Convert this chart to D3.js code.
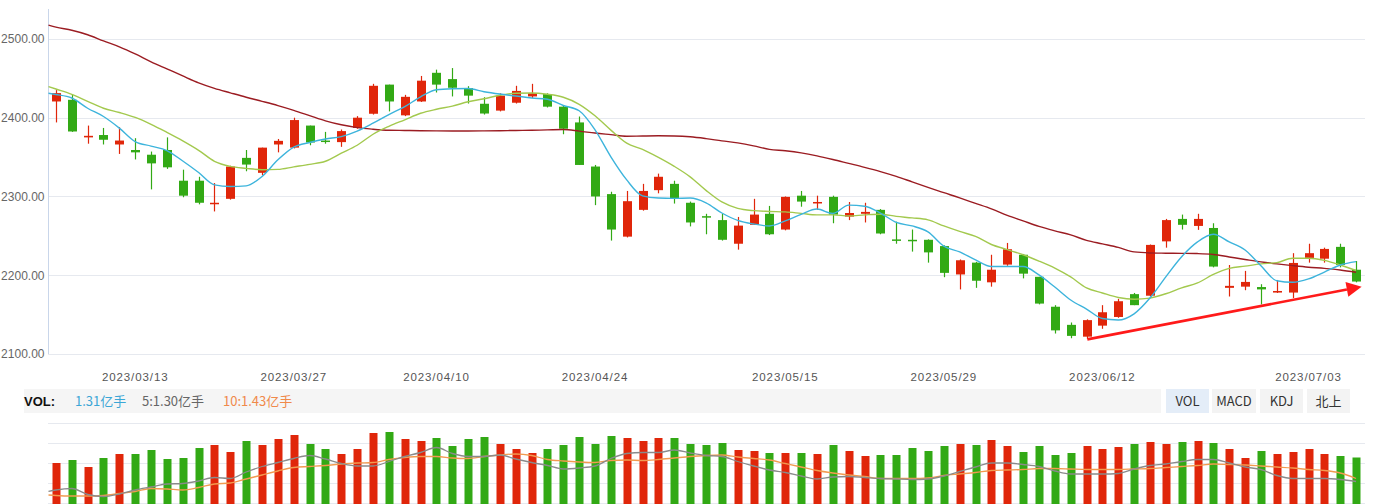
<!DOCTYPE html>
<html><head><meta charset="utf-8">
<script src="https://cdn.jsdelivr.net/npm/d3@7/dist/d3.min.js"></script>
<style>html,body{margin:0;padding:0;background:#fff;overflow:hidden}</style>
</head><body>
<svg id="c" width="1381" height="504"></svg>
<script>
const dates = ["03/06","03/07","03/08","03/09","03/10","03/13","03/14","03/15","03/16","03/17","03/20","03/21","03/22","03/23","03/24","03/27","03/28","03/29","03/30","03/31",
"04/03","04/04","04/06","04/07","04/10","04/11","04/12","04/13","04/14","04/17","04/18","04/19","04/20","04/21","04/24","04/25","04/26","04/27","04/28",
"05/04","05/05","05/08","05/09","05/10","05/11","05/12","05/15","05/16","05/17","05/18","05/19","05/22","05/23","05/24","05/25","05/26","05/29","05/30","05/31",
"06/01","06/02","06/05","06/06","06/07","06/08","06/09","06/12","06/13","06/14","06/15","06/16","06/19","06/20","06/21","06/26","06/27","06/28","06/29","06/30",
"07/03","07/04","07/05","07/06"].map(d => "2023/" + d);
const xTickLabels = ["2023/03/13","2023/03/27","2023/04/10","2023/04/24","2023/05/15","2023/05/29","2023/06/12","2023/07/03"];
const yTicks = [2100, 2200, 2300, 2400, 2500];

const opens  = [2420.6,2422.7,2375,2378,2366,2359,2353,2359,2320,2320,2291,2297,2349,2330,2366,2362,2390,2371,2369,2387,2405,2442,2403,2420.6,2457,2449,2437.6,2417.7,2409,2419,2427,2430,2414,2394,2338,2303,2249,2283,2308,2316,2292,2275,2270,2240,2264,2278,2258,2301,2292,2299.5,2274.4,2278,2283,2245.5,2245,2245,2237,2201,2216,2191,2213.5,2226,2198,2160,2137,2122,2136,2147,2176,2174,2243,2271.5,2262.6,2260,2184,2185.5,2185,2178,2178,2222,2221,2236,2207];
const highs  = [2435,2430,2390,2387,2388,2374,2357,2375,2334,2325,2317,2339,2359,2362,2373,2400,2390,2382,2385,2402,2443,2442,2429,2453,2461,2463,2440,2426,2431,2440.5,2443,2431,2415,2401.5,2340,2306,2307,2316,2329,2320,2293.5,2278,2278,2274,2297,2288,2300,2307,2301,2301,2293,2292,2284,2268,2258,2245.5,2238,2220,2217,2226,2241,2227,2198,2162,2140,2144,2162,2170,2177.5,2239,2271.5,2277,2278,2266,2213,2205.5,2188.6,2194,2228,2240,2235,2240,2218];
const lows   = [2394,2382,2367,2366,2354,2347,2309,2335,2299,2290,2281,2296,2332,2327,2356,2361,2365,2367,2363,2386,2404,2408,2402,2420,2432,2427,2418,2404,2408,2418,2425,2413,2379,2340,2289,2244,2248,2282,2304,2291,2262,2252,2244,2232.5,2264,2251,2257,2287,2283,2266,2270,2267,2252,2240,2230,2216,2197.5,2182,2184,2185.5,2212,2196,2163,2126,2120,2119,2132,2146,2162,2173,2235,2258,2257.6,2210,2173,2181,2163,2177.5,2171,2216,2216,2210,2191];
const closes = [2431.2,2382.5,2377,2372,2371,2356,2342,2337,2301,2292,2292,2338,2340.5,2362,2370.6,2397,2368.5,2370,2383,2400,2440.5,2420.6,2426.5,2447,2442,2438,2428,2405.3,2428,2434,2431,2414,2386,2340,2300,2258,2294,2307,2325,2297,2267,2273.5,2245,2263,2277,2252,2299.5,2293.5,2293,2277,2279,2280.4,2253,2244.5,2244,2229,2203,2219,2193,2207,2233,2202,2164,2130,2123,2143,2153,2167,2162,2238.5,2270,2264,2271.5,2211,2186.5,2191.5,2182,2180,2215.6,2228,2233.4,2213,2192];

const ma5  = [2429.5,2425,2412,2401.5,2386.8,2369.7,2364,2358.3,2345,2330.4,2314.7,2312.6,2313.5,2325.3,2346.5,2362.6,2368.5,2373,2376,2383,2393,2404,2414,2426.5,2435.5,2436.7,2437,2433,2430,2427.6,2425,2423.4,2415.5,2408.8,2384.6,2350.3,2321,2300.7,2298,2297.6,2298,2292,2279,2269.6,2265,2262.6,2269,2277.3,2284,2278.4,2289,2287.6,2279,2267,2262.6,2255,2237,2229.6,2219.4,2211,2211,2211,2200.4,2185,2168.6,2157,2145,2143.2,2151,2171,2198,2223.5,2242.3,2252,2242.3,2232,2212,2193,2191,2195.3,2204,2213,2217.3];
const ma10 = [2436.4,2429.7,2420.8,2412,2406.6,2400.3,2391.6,2381.4,2370.6,2358.6,2344.6,2338.2,2335.7,2334,2334.4,2337.6,2340.8,2344.7,2354.9,2365,2379,2389,2397.3,2405.6,2410.7,2414.7,2420.2,2424,2428.5,2431,2431.3,2429.7,2426,2417,2402.4,2384.2,2367.6,2359.8,2349.6,2338.2,2324.9,2307.7,2293,2284.9,2282,2281,2280.4,2278.5,2276.6,2276.6,2275.3,2276.6,2277.5,2274.7,2272.8,2270.3,2262.6,2255.6,2249.3,2239,2232.5,2226,2218,2209,2197.8,2183.9,2177.5,2171.8,2169.6,2171,2176.5,2183.9,2190.2,2201,2208.7,2211.5,2214.4,2216,2221.6,2221.6,2218.9,2213,2206];
const ma60 = [2514.9,2511,2505.3,2497.5,2490,2481,2471,2462,2453,2444.3,2437.3,2431.6,2426,2420.8,2415.4,2409.4,2402.7,2396,2391,2387.4,2385.4,2384.1,2383.8,2383.5,2383.3,2383.2,2383.2,2383.3,2383.5,2383.8,2384,2384.5,2385,2383,2380.5,2378.5,2376.5,2376.8,2377,2376.8,2375.8,2373.5,2370.6,2368,2364.3,2359.8,2358,2355.4,2351.6,2347,2342,2337,2331.6,2325.5,2318.5,2311.5,2304.8,2298.2,2291.2,2284.2,2276,2269,2262,2256.3,2251.2,2244.3,2239.8,2235.3,2229.6,2228.3,2228,2227.8,2227.5,2226.4,2223.2,2220,2216.9,2214.4,2212.2,2210.2,2208.7,2206.7,2203.8];
// values of the three lines where they enter at the left edge of the plot
const maLeftEdge = {ma5: 2431, ma10: 2439.5, ma60: 2517.5};

const volumes = [1.20,1.26,1.12,1.30,1.38,1.38,1.46,1.28,1.30,1.50,1.56,1.42,1.64,1.56,1.68,1.76,1.58,1.48,1.38,1.48,1.80,1.82,1.68,1.64,1.70,1.54,1.68,1.72,1.58,1.48,1.40,1.48,1.56,1.72,1.58,1.74,1.70,1.64,1.70,1.70,1.58,1.56,1.60,1.46,1.44,1.40,1.40,1.40,1.38,1.56,1.44,1.34,1.36,1.36,1.50,1.44,1.54,1.58,1.56,1.66,1.54,1.42,1.54,1.36,1.40,1.54,1.48,1.52,1.58,1.62,1.58,1.62,1.64,1.60,1.48,1.30,1.44,1.38,1.42,1.48,1.38,1.34,1.31];
const volMa5  = [0.66,0.69,0.57,0.53,0.58,0.66,0.72,0.78,0.79,0.84,0.91,0.89,1.02,1.13,1.21,1.29,1.35,1.28,1.19,1.14,1.14,1.23,1.33,1.41,1.51,1.39,1.33,1.33,1.36,1.28,1.21,1.15,1.08,1.10,1.14,1.29,1.39,1.41,1.41,1.46,1.40,1.35,1.33,1.23,1.14,1.06,1.01,0.94,0.88,0.92,0.93,0.91,0.89,0.88,0.87,0.88,0.94,1.03,1.12,1.20,1.20,1.17,1.13,1.04,0.98,0.98,0.98,0.99,1.08,1.15,1.18,1.23,1.27,1.27,1.20,1.12,1.07,0.95,0.89,0.89,0.89,0.87,0.83];
const volMa10 = [0.55,0.54,0.54,0.55,0.59,0.63,0.69,0.68,0.66,0.71,0.78,0.80,0.88,0.96,1.04,1.11,1.13,1.15,1.18,1.20,1.21,1.27,1.31,1.33,1.33,1.30,1.29,1.33,1.36,1.38,1.35,1.27,1.24,1.22,1.21,1.25,1.26,1.25,1.27,1.30,1.33,1.35,1.36,1.32,1.29,1.26,1.19,1.12,1.05,1.00,0.96,0.93,0.89,0.89,0.89,0.90,0.95,0.98,1.01,1.05,1.06,1.07,1.09,1.09,1.08,1.07,1.07,1.07,1.08,1.09,1.11,1.13,1.15,1.18,1.17,1.16,1.14,1.12,1.10,1.07,1.05,1.00,0.89];
const volMaLeftEdge = {volMa5: 0.63, volMa10: 0.56};

const legendItems = [
  {text: "1.31亿手", color: "#3ba6d6"},
  {text: "5:1.30亿手", color: "#666666"},
  {text: "10:1.43亿手", color: "#f0894a"}
];
const tabs = ["VOL", "MACD", "KDJ", "北上"];
// trend annotation: [index, price]
const trendArrow = [[65.05, 2118.6], [82.35, 2185.5]];

const svg = d3.select("#c");
const FONT = "'Liberation Sans', Arial, 'Noto Sans CJK SC', sans-serif";
const UP = "#e0260a", DOWN = "#32a915";

const x = d3.scaleBand().domain(d3.range(dates.length)).range([48, 1364]).paddingInner(0.43).paddingOuter(0.215);
const cx = i => x(i) + x.bandwidth() / 2;
const xc = d3.scaleLinear().domain([0, dates.length - 1]).range([cx(0), cx(dates.length - 1)]);
const y = d3.scaleLinear().domain([2100, 2538]).range([354, 9]);
const vy = d3.scaleLinear().domain([0, 2.0]).range([523, 423]);
const LEFT = 48.5;

// grid main
svg.append("g").selectAll("line").data(yTicks).join("line")
  .attr("x1", 48).attr("x2", 1365).attr("y1", d => Math.round(y(d)) + 0.5).attr("y2", d => Math.round(y(d)) + 0.5)
  .attr("stroke", "#e6e9ef").attr("stroke-width", 1);
// y axis
const yAxis = d3.axisLeft(y).tickValues(yTicks).tickFormat(d3.format(".2f")).tickSize(0).tickPadding(4);
const ya = svg.append("g").attr("transform", "translate(48.5,0)").call(yAxis);
ya.select(".domain").attr("stroke", "#c9d6ea").attr("d", "M0,9V354");
ya.selectAll("text").attr("font-family", FONT).attr("font-size", 12).attr("fill", "#666");

// x axis labels
const xa = d3.axisBottom(x).tickValues(xTickLabels.map(l => dates.indexOf(l))).tickFormat(i => dates[i]).tickSize(0).tickPadding(0);
const xg = svg.append("g").attr("transform", "translate(0,373)").call(xa);
xg.select(".domain").remove();
xg.selectAll("text").attr("font-family", FONT).attr("font-size", 11.5).attr("letter-spacing", "0.9px").attr("fill", "#555").attr("dy", "0.71em");

// candles
const cg = svg.append("g");
const idx = d3.range(dates.length);
cg.selectAll("line").data(idx).join("line")
  .attr("x1", i => Math.round(cx(i)) + 0.5).attr("x2", i => Math.round(cx(i)) + 0.5)
  .attr("y1", i => y(highs[i])).attr("y2", i => y(lows[i]))
  .attr("stroke", i => closes[i] >= opens[i] ? UP : DOWN).attr("stroke-width", 1.2);
cg.selectAll("rect").data(idx).join("rect")
  .attr("x", i => Math.round(cx(i)) + 0.5 - 4.5).attr("width", 9)
  .attr("y", i => Math.min(y(opens[i]), y(closes[i])))
  .attr("height", i => Math.max(1.5, Math.abs(y(opens[i]) - y(closes[i]))))
  .attr("fill", i => closes[i] >= opens[i] ? UP : DOWN);

// MA lines (with the point where each enters at the left edge)
const pts = (arr, edge, ys) => [[LEFT, ys(edge)]].concat(arr.map((d, i) => [cx(i), ys(d)]));
const lineGen = d3.line().curve(d3.curveMonotoneX);
[[ma60, maLeftEdge.ma60, "#9b1c22"], [ma10, maLeftEdge.ma10, "#a3c94e"], [ma5, maLeftEdge.ma5, "#3db4dc"]].forEach(([arr, e, col]) => {
  svg.append("path").attr("d", lineGen(pts(arr, e, y))).attr("fill", "none").attr("stroke", col).attr("stroke-width", 1.4);
});

// trend arrow
const ax0 = xc(trendArrow[0][0]), ay0 = y(trendArrow[0][1]);
const ax1 = xc(trendArrow[1][0]), ay1 = y(trendArrow[1][1]);
const ang = Math.atan2(ay1 - ay0, ax1 - ax0);
const hl = 15, hw = 7.5;
const bx = ax1 - hl * Math.cos(ang), by = ay1 - hl * Math.sin(ang);
svg.append("line").attr("x1", ax0).attr("y1", ay0).attr("x2", bx).attr("y2", by)
  .attr("stroke", "#ff1a1a").attr("stroke-width", 2.6);
svg.append("path").attr("d", `M${ax1},${ay1}L${bx - hw * Math.sin(ang)},${by + hw * Math.cos(ang)}L${bx + hw * Math.sin(ang)},${by - hw * Math.cos(ang)}Z`)
  .attr("fill", "#ff1a1a");

// legend strip
svg.append("rect").attr("x", 24).attr("y", 389).attr("width", 1137).attr("height", 24).attr("fill", "#f5f5f5");
svg.append("text").attr("x", 24).attr("y", 406).attr("font-family", FONT).attr("font-size", 13).attr("font-weight", "bold").attr("fill", "#111").text("VOL:");
const lx = [75, 142, 223];
legendItems.forEach((d, k) => {
  svg.append("text").attr("x", lx[k]).attr("y", 406).attr("font-family", "'Noto Sans CJK SC', sans-serif").attr("font-size", 13).attr("fill", d.color).text(d.text);
});
const tabX = [1166, 1212, 1260, 1307], tabW = [43, 44, 43, 43];
tabs.forEach((t, k) => {
  svg.append("rect").attr("x", tabX[k]).attr("y", 389).attr("width", tabW[k]).attr("height", 24).attr("fill", k === 0 ? "#e4edf8" : "#f3f3f3");
  svg.append("text").attr("x", tabX[k] + tabW[k] / 2).attr("y", 406).attr("text-anchor", "middle")
    .attr("font-family", "'Noto Sans CJK SC', sans-serif").attr("font-size", 13).attr("fill", "#333").text(t);
});

// volume grid
const vGrid = [2.0, 1.6, 1.2, 0.8, 0.4];
svg.append("g").selectAll("line").data(vGrid).join("line")
  .attr("x1", 48).attr("x2", 1365).attr("y1", d => Math.round(vy(d)) + 0.5).attr("y2", d => Math.round(vy(d)) + 0.5)
  .attr("stroke", "#e6e9ef");
// volume bars
svg.append("g").selectAll("rect").data(idx).join("rect")
  .attr("x", i => Math.round(cx(i)) + 0.5 - 4).attr("width", 8)
  .attr("y", i => vy(volumes[i])).attr("height", i => vy(0) - vy(volumes[i]))
  .attr("fill", i => closes[i] >= opens[i] ? UP : DOWN);
[[volMa10, volMaLeftEdge.volMa10, "#f29a50"], [volMa5, volMaLeftEdge.volMa5, "#8a8a8a"]].forEach(([arr, e, col]) => {
  svg.append("path").attr("d", lineGen(pts(arr, e, vy))).attr("fill", "none").attr("stroke", col).attr("stroke-width", 1.3);
});
</script>
</body></html>
